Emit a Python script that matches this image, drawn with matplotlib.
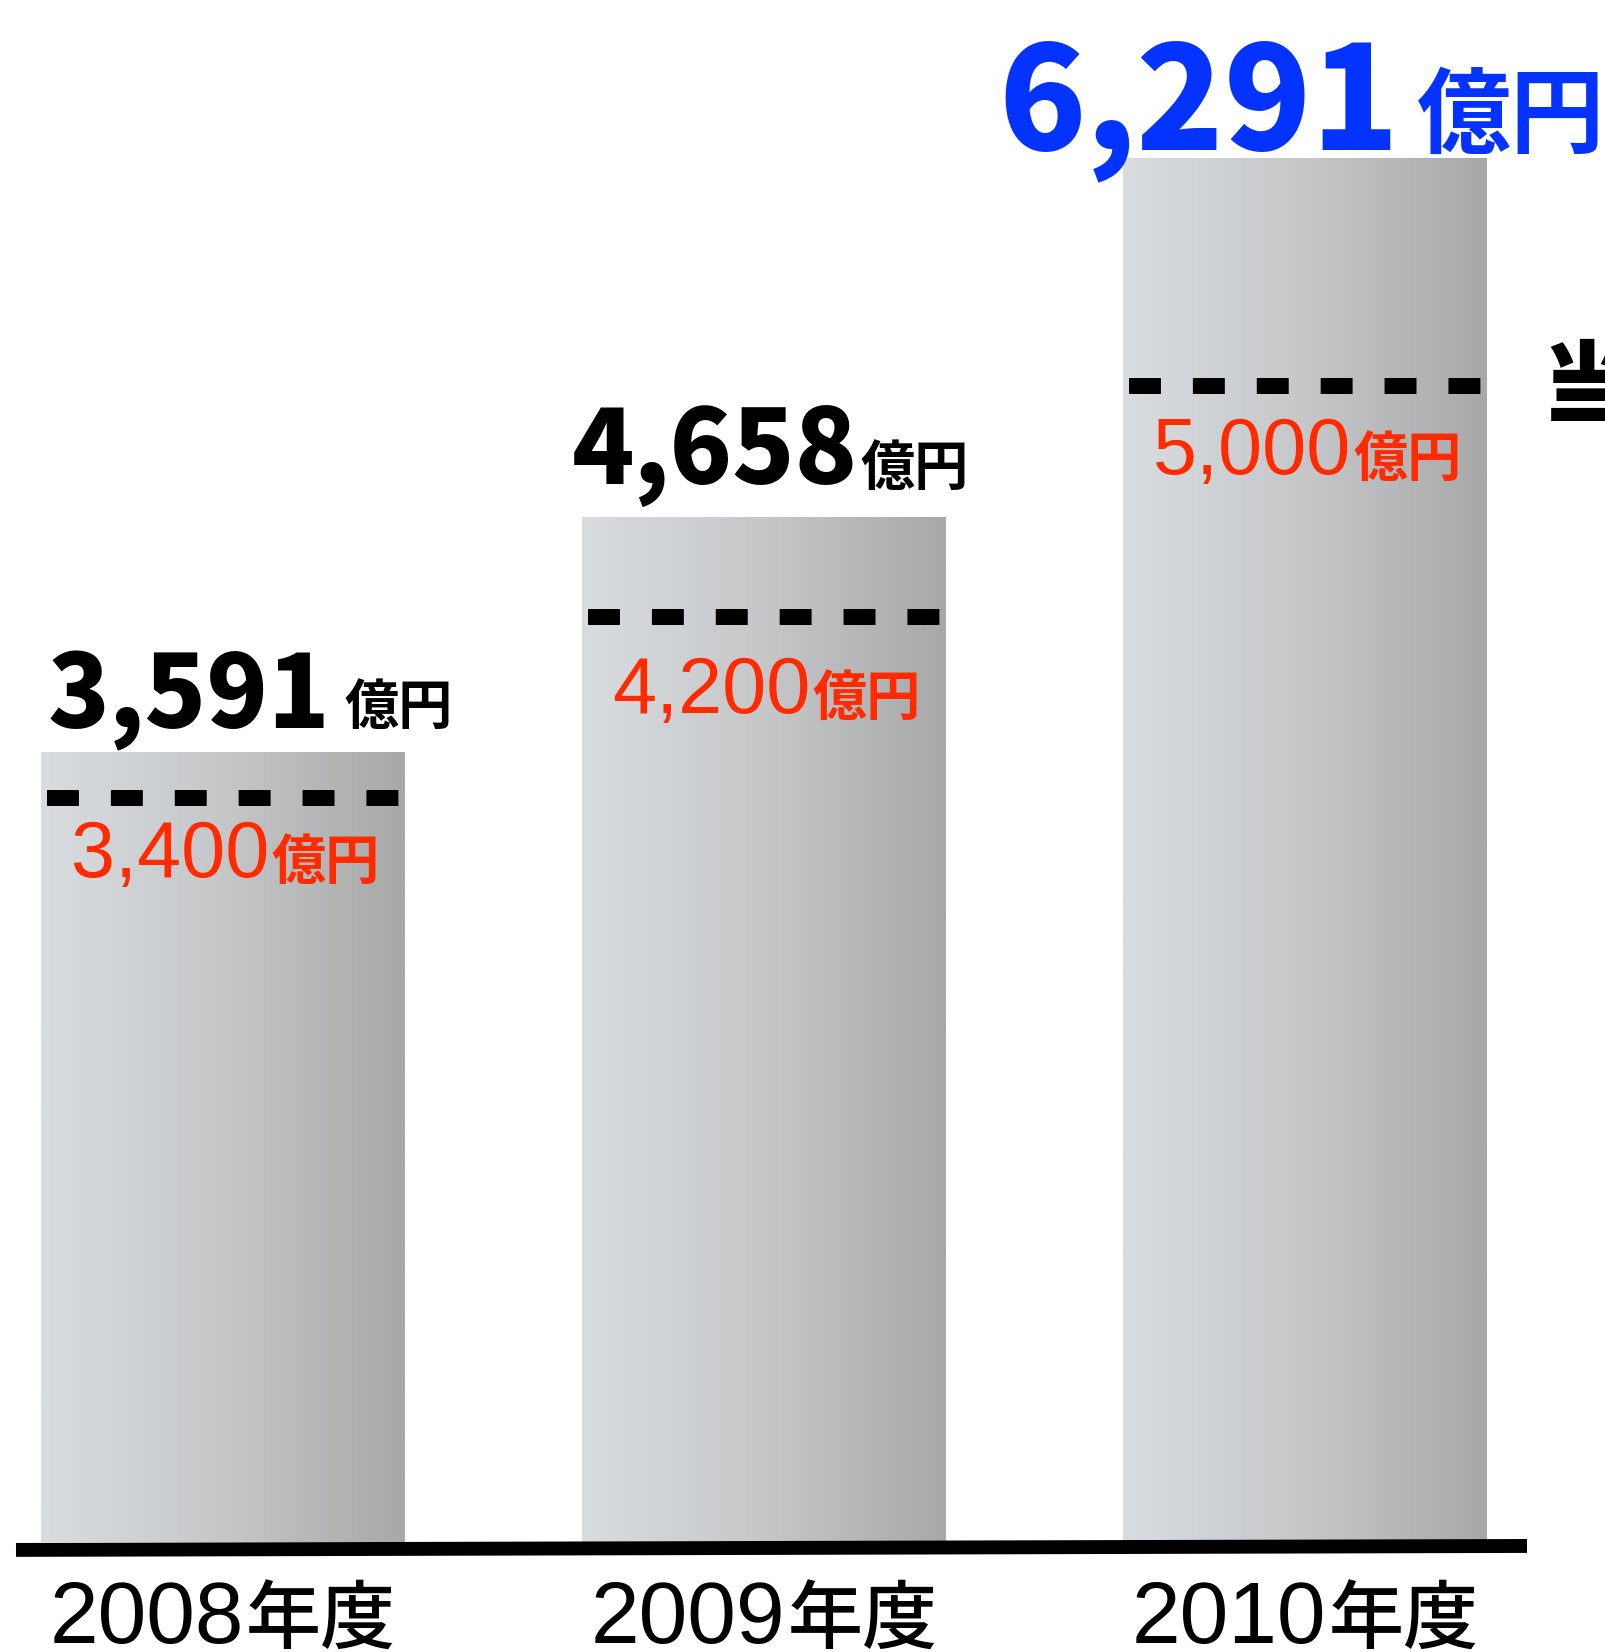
import numpy as np
import matplotlib
matplotlib.use("Agg")
import matplotlib.pyplot as plt
from matplotlib.colors import LinearSegmentedColormap

plt.rcParams['font.family'] = ['Noto Sans CJK JP', 'DejaVu Sans']

# Data
years = ["2008", "2009", "2010"]
results = [3591, 4658, 6291]          # 実績 (億円)
targets = [3400, 4200, 5000]          # 当初目標 (億円)
target_marks = [3380, 4205, 5255]     # where the dashed target line is drawn
result_labels = ["3,591", "4,658", "6,291"]
target_labels = ["3,400", "4,200", "5,000"]
unit = "億円"
year_suffix = "年度"

W, H = 1606, 1652
fig = plt.figure(figsize=(W / 100, H / 100), dpi=100)
ax = fig.add_axes([0, 0, 1, 1])
ax.axis("off")

x = np.arange(len(years))
bar_w = 364 / 541
xlim = (-223 / 541, (W - 223) / 541)
ylim = (-(H - 1542) / 0.22, 1542 / 0.22)

# Bars with left-to-right grey gradient
grad_cmap = LinearSegmentedColormap.from_list("bar", ["#d9dde0", "#c5c7c9", "#a8a8a8"])
grad = np.linspace(0, 1, 256).reshape(1, -1)
bars = ax.bar(x, results, width=bar_w, color="none", edgecolor="none")
for b in bars:
    im = ax.imshow(grad, cmap=grad_cmap, aspect="auto", interpolation="bilinear",
                   extent=(b.get_x(), b.get_x() + b.get_width(), 0, b.get_height()),
                   zorder=1)
    im.set_clip_path(b)

# Dashed target lines
dash_len = 352 / 541
ax.hlines(target_marks, x - dash_len / 2, x + dash_len / 2, colors="black",
          linewidth=11.5, linestyles=(0, (2, 2)), zorder=3)

# Baseline (slightly tilted as in the original)
ax.plot([(16 - 223) / 541, (1527 - 223) / 541], [-36, -18], color="black",
        lw=10, solid_capstyle="butt", zorder=4)

ax.set_xlim(*xlim)
ax.set_ylim(*ylim)

fig.canvas.draw()
renderer = fig.canvas.get_renderer()


def pair(cx, base1, base2, s1, kw1, s2, kw2, gap, maxw=None):
    t1 = fig.text(0, 0, s1, ha="left", va="baseline", **kw1)
    t2 = fig.text(0, 0, s2, ha="left", va="baseline", **kw2)
    w1 = t1.get_window_extent(renderer).width
    w2 = t2.get_window_extent(renderer).width
    if maxw is not None and w1 + gap + w2 > maxw:
        k = maxw / (w1 + gap + w2)
        t1.set_fontsize(t1.get_fontsize() * k)
        t2.set_fontsize(t2.get_fontsize() * k)
        w1 = t1.get_window_extent(renderer).width
        w2 = t2.get_window_extent(renderer).width
    left = cx - (w1 + gap + w2) / 2
    t1.set_position((left / W, 1 - base1 / H))
    t2.set_position(((left + w1 + gap) / W, 1 - base2 / H))


def bar_cx(i):
    return ax.transData.transform((x[i], 0))[0]


cjk = "Noto Sans CJK JP"
latin = "Liberation Sans"
red = "#ff2a00"
blue = "#0433ff"

# Result labels above bars
pair(250, 728, 724, result_labels[0], dict(family=cjk, weight="heavy", fontsize=73, color="black"),
     unit, dict(family=cjk, weight="bold", fontsize=39, color="black"), 14)
pair(770, 484, 485, result_labels[1], dict(family=cjk, weight="heavy", fontsize=74, color="black"),
     unit, dict(family=cjk, weight="bold", fontsize=39, color="black"), 2)
pair(1302, 149, 146, result_labels[2], dict(family=cjk, weight="heavy", fontsize=110, color=blue),
     unit, dict(family=cjk, weight="bold", fontsize=72, color=blue), 18, maxw=606)

# Target labels inside bars
for i, base in enumerate([877, 713, 474]):
    pair(bar_cx(i) + 2, base, base + 2, target_labels[i],
         dict(family=latin, fontsize=57, color=red),
         unit, dict(family=cjk, weight="bold", fontsize=39, color=red), 2)

# Category labels
for i, y in enumerate(years):
    pair(bar_cx(i), 1643, 1644, y, dict(family=latin, fontsize=63, color="black"),
         year_suffix, dict(family=cjk, weight="medium", fontsize=54, color="black"), 2)

# Partially visible side caption
fig.text(1541 / W, 1 - 416 / H, "当初目標", ha="left", va="baseline",
         family=cjk, weight="heavy", fontsize=65, color="black")

fig.savefig("out.png", dpi=100)
